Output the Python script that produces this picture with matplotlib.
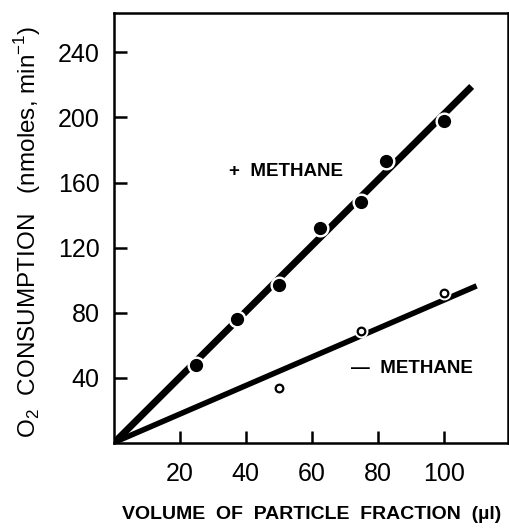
import matplotlib
matplotlib.use('Agg')
import matplotlib.pyplot as plt
import numpy as np

# + methane (filled points)
x_plus = [25, 37.5, 50, 62.5, 75, 82.5, 100]
y_plus = [48, 76, 97, 132, 148, 173, 198]
# - methane (open points)
x_minus = [50, 75, 100]
y_minus = [34, 69, 92]

# fitted lines, drawn from the origin
line_plus_x = [0.3, 108.5]
line_plus_y = [0.5, 219]
line_minus_x = [0.3, 110]
line_minus_y = [0.5, 96.5]

xticks = [20, 40, 60, 80, 100]
yticks = [40, 80, 120, 160, 200, 240]

plt.rcParams['font.family'] = ['Liberation Sans', 'DejaVu Sans']
plt.rcParams['mathtext.fontset'] = 'custom'
plt.rcParams['mathtext.rm'] = 'Liberation Sans'

fig = plt.figure(figsize=(5.1, 5.28), dpi=100)
ax = fig.add_axes([0.223, 0.161, 0.773, 0.814])

ax.plot(line_plus_x, line_plus_y, color='black', lw=5, solid_capstyle='butt', zorder=2)
ax.plot(line_minus_x, line_minus_y, color='black', lw=4, solid_capstyle='butt', zorder=2)

# white halo so the line breaks around each point
ax.plot(x_plus, y_plus, 'o', ms=12, color='white', mec='white', zorder=3)
ax.plot(x_plus, y_plus, 'o', ms=8.5, color='black', zorder=4)
ax.plot(x_minus, y_minus, 'o', ms=9, color='white', mec='white', zorder=3)
ax.plot(x_minus, y_minus, 'o', ms=5.5, mfc='white', mec='black', mew=1.6, zorder=4)

ax.text(35, 167, '+  METHANE', fontsize=13.5, fontweight='bold', va='center', ha='left')
ax.text(72, 46, '—  METHANE', fontsize=13.5, fontweight='bold', va='center', ha='left')

ax.set_xlim(0, 119.5)
ax.set_ylim(0, 264)
ax.set_xticks(xticks)
ax.set_yticks(yticks)
ax.tick_params(direction='in', length=9, width=1.8, labelsize=18, pad=10)
ax.tick_params(axis='x', pad=14)
for s in ax.spines.values():
    s.set_linewidth(1.8)

fig.text(0.611, 0.025, 'VOLUME  OF  PARTICLE  FRACTION  (µl)', fontsize=14,
         fontweight='bold', ha='center', va='center')
fig.text(0.055, 0.5616, 'O$_2$  CONSUMPTION   (nmoles, min$^{-1}$)', fontsize=17.5,
         rotation=90, ha='center', va='center')

fig.savefig('out.png', dpi=100)
